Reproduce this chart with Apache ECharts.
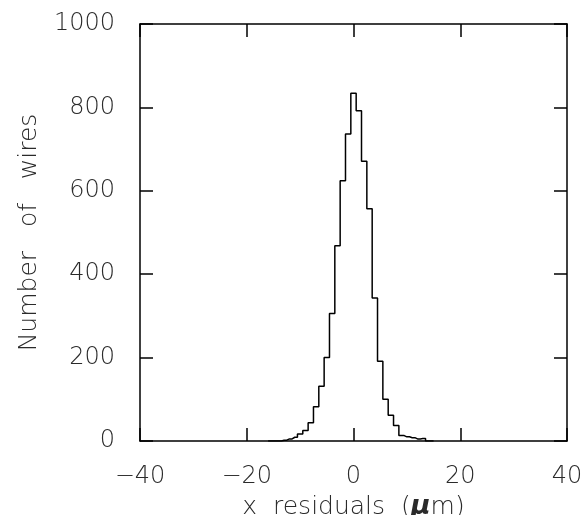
<!DOCTYPE html>
<html>
<head>
<meta charset="utf-8">
<script src="https://cdn.jsdelivr.net/npm/echarts@6/dist/echarts.min.js"></script>
<style>
html,body{margin:0;padding:0;background:#fff;}
#c{width:585px;height:515px;}
</style>
</head>
<body>
<div id="c"></div>
<script>
// Bin centers (μm), 1 μm wide bins
const binCenters = [-16,-15,-14,-13,-12,-11,-10,-9,-8,-7,-6,-5,-4,-3,-2,-1,0,1,2,3,4,5,6,7,8,9,10,11,12,13,14,15];
// Number of wires per bin
const counts =     [0,0,0,2,5,9,17,25,44,82,131,200,306,468,624,736,834,792,671,557,343,191,100,62,37,13,10,8,5,6,0,0];
const xTicks = [-40,-20,0,20,40];
const yTicks = [0,200,400,600,800,1000];

const data = binCenters.map((x,i)=>[x,counts[i]]);
const font = 'DejaVu Sans';
const txt = '#2a2a2a';
const fs = 24;

const chart = echarts.init(document.getElementById('c'), null, {renderer:'canvas'});
chart.setOption({
  animation:false,
  grid:{left:140,right:18,top:24,bottom:74,show:false,containLabel:false,outerBoundsMode:'none'},
  xAxis:[{
    type:'value', min:xTicks[0], max:xTicks[xTicks.length-1], interval:20,
    position:'bottom',
    axisLine:{show:true,onZero:false,lineStyle:{color:'#000',width:1.5}},
    axisTick:{show:true,inside:true,length:13,lineStyle:{color:'#000',width:1.5}},
    splitLine:{show:false},
    axisLabel:{color:txt,fontFamily:font,fontWeight:300,fontSize:fs,margin:24,
      formatter:v=>String(v).replace('-','\u2212')},
    name:'x  residuals  ({i|\u03bc}m)',
    nameLocation:'middle', nameGap:51,
    nameTextStyle:{color:txt,fontFamily:font,fontWeight:300,fontSize:25,
      rich:{i:{fontStyle:'italic',fontWeight:'bold',fontFamily:font,fontSize:27,color:txt}}}
  },{
    type:'value', min:xTicks[0], max:xTicks[xTicks.length-1], interval:20,
    position:'top',
    axisLine:{show:true,onZero:false,lineStyle:{color:'#000',width:1.5}},
    axisTick:{show:true,inside:true,length:13,lineStyle:{color:'#000',width:1.5}},
    axisLabel:{show:false}, splitLine:{show:false}
  }],
  yAxis:[{
    type:'value', min:yTicks[0], max:yTicks[yTicks.length-1], interval:200,
    position:'left',
    axisLine:{show:true,onZero:false,lineStyle:{color:'#000',width:1.5}},
    axisTick:{show:true,inside:true,length:13,lineStyle:{color:'#000',width:1.5}},
    splitLine:{show:false},
    axisLabel:{color:txt,fontFamily:font,fontWeight:300,fontSize:fs,margin:25,
      formatter:v=>String(v)},
    name:'Number   of   wires', nameLocation:'middle', nameGap:98,
    nameTextStyle:{color:txt,fontFamily:font,fontWeight:300,fontSize:25}
  },{
    type:'value', min:yTicks[0], max:yTicks[yTicks.length-1], interval:200,
    position:'right',
    axisLine:{show:true,onZero:false,lineStyle:{color:'#000',width:1.5}},
    axisTick:{show:true,inside:true,length:13,lineStyle:{color:'#000',width:1.5}},
    axisLabel:{show:false}, splitLine:{show:false}
  }],
  series:[{
    type:'line', step:'middle', data:data, xAxisIndex:0, yAxisIndex:0,
    symbol:'none', lineStyle:{color:'#000',width:1.5}
  }]
});
</script>
</body>
</html>
